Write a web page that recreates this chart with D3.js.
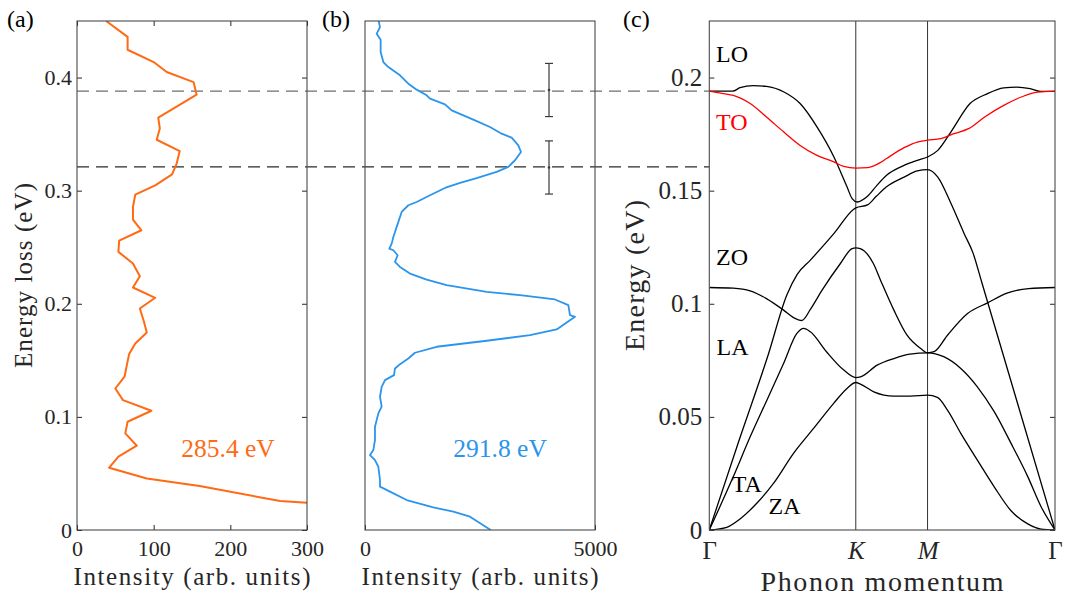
<!DOCTYPE html>
<html>
<head>
<meta charset="utf-8">
<script src="https://cdnjs.cloudflare.com/ajax/libs/d3/7.8.5/d3.min.js"></script>
<style>
    body { margin: 0; background: #fff; }
    text { font-family: Liberation Serif, serif !important; }
</style>
</head>
<body>
<div id="chart"></div>
<script>
// panel (a): spectrum at 285.4 eV (energy loss vs intensity)
let lossA = [0.45, 0.436, 0.4246, 0.4137, 0.4049, 0.396, 0.3849, 0.3645, 0.355, 0.345, 0.335, 0.324,
    0.3144, 0.3047, 0.2965, 0.2856, 0.2744, 0.265, 0.2559, 0.2459, 0.2356, 0.2244, 0.2144, 0.2053,
    0.1958, 0.185, 0.1746, 0.1649, 0.1555, 0.1458, 0.1355, 0.1251, 0.1148, 0.1054, 0.0957, 0.0854,
    0.0745, 0.0648, 0.0551, 0.0456, 0.0389, 0.0256, 0.0241];
let intensityA = [38, 66, 66, 100, 117, 152, 156, 106, 108, 104, 134, 130,
    124, 102, 76, 73, 73, 84, 55, 54, 73, 82, 73, 102,
    82, 87, 91, 76, 68, 65, 62, 50, 60, 97, 66, 63,
    78, 54, 42, 91, 160, 265, 300];

// panel (b): spectrum at 291.8 eV
let lossB = [0.45, 0.4446, 0.4388, 0.4335, 0.4226, 0.4137, 0.4093, 0.402, 0.3946, 0.3893, 0.3843, 0.3813,
    0.3763, 0.371, 0.3666, 0.3622, 0.3563, 0.3504, 0.3469, 0.3401, 0.3342, 0.3269, 0.321, 0.3166,
    0.3107, 0.3068, 0.3024, 0.2959, 0.29, 0.2871, 0.2812, 0.2724, 0.2591, 0.2532, 0.2488, 0.2473,
    0.2429, 0.237, 0.2326, 0.2267, 0.2214, 0.2164, 0.2105, 0.2076, 0.2038, 0.1988, 0.1899, 0.1885,
    0.1773, 0.1723, 0.1673, 0.162, 0.1567, 0.1516, 0.1466, 0.1428, 0.1369, 0.1325, 0.1266, 0.1178,
    0.109, 0.1031, 0.0913, 0.0795, 0.0707, 0.0663, 0.0618, 0.0559, 0.0442, 0.0383, 0.0339, 0.0265,
    0.02, 0.0162, 0.0118, 0];
let intensityB = [297, 326, 254, 340, 340, 399, 507, 761, 942, 1123, 1340, 1413,
    1739, 1884, 2138, 2391, 2717, 2971, 3188, 3333, 3391, 3261, 3116, 2862,
    2391, 2065, 1739, 1413, 1123, 942, 797, 725, 616, 580, 529, 616,
    710, 652, 761, 978, 1340, 1775, 2645, 3369, 4130, 4420, 4456, 4565,
    4166, 3587, 2645, 1558, 1087, 942, 761, 652, 630, 435, 362, 326,
    362, 290, 217, 217, 181, 109, 217, 290, 326, 326, 543, 906,
    1485, 1920, 2283, 2732];

// error bars in panel (b)
let errX = [4000, 4000];
let errCenter = [0.389, 0.3205];
let errHalf = [0.0235, 0.0235];

// dashed guide lines (energy loss)
let guideLoss = [0.388, 0.321];
let guideColor = ["#6e6e6e", "#2a2a2a"];

// panel (c): phonon branches, [momentum, energy]; K at 1, M at 1.49, Gamma at 2.36
let branchLO = [[0, 0.194], [0.16, 0.194], [0.21, 0.1955], [0.30, 0.1964], [0.39, 0.1961], [0.51, 0.1936],
    [0.62, 0.1885], [0.735, 0.1782], [0.85, 0.165], [0.94, 0.1517], [0.975, 0.1465], [1.01, 0.145],
    [1.08, 0.1475], [1.14, 0.152], [1.21, 0.1568], [1.33, 0.1612], [1.42, 0.1634], [1.49, 0.1649],
    [1.56, 0.1678], [1.65, 0.176], [1.78, 0.1885], [1.90, 0.1929], [2.01, 0.1954], [2.10, 0.1958],
    [2.19, 0.1951], [2.26, 0.1939], [2.36, 0.1939]];
let branchTO = [[0, 0.194], [0.096, 0.1929], [0.164, 0.1921], [0.279, 0.1885], [0.39, 0.1826], [0.507, 0.176],
    [0.62, 0.170], [0.735, 0.1656], [0.85, 0.1627], [0.918, 0.1607], [1.0, 0.160], [1.08, 0.1602],
    [1.17, 0.1625], [1.21, 0.1642], [1.33, 0.169], [1.42, 0.1715], [1.49, 0.1723], [1.58, 0.173],
    [1.67, 0.1752], [1.77, 0.1774], [1.88, 0.1826], [2.01, 0.1877], [2.13, 0.1914], [2.24, 0.1936],
    [2.36, 0.194]];
let branchLA = [[0, 0], [0.2, 0.039], [0.4, 0.077], [0.53, 0.104], [0.6, 0.113], [0.69, 0.1193],
    [0.85, 0.131], [0.986, 0.1418], [1.0, 0.1424], [1.08, 0.1437], [1.14, 0.1475], [1.21, 0.1517],
    [1.33, 0.156], [1.42, 0.1587], [1.49, 0.1593], [1.56, 0.156], [1.65, 0.1443], [1.74, 0.131],
    [1.80, 0.1225], [1.86, 0.1095], [2.36, 0]];
let branchZO = [[0, 0.1072], [0.164, 0.1069], [0.279, 0.1057], [0.39, 0.1023], [0.507, 0.0972], [0.575, 0.0939],
    [0.632, 0.0926], [0.69, 0.0975], [0.77, 0.106], [0.895, 0.1178], [0.975, 0.1244], [1.0, 0.1247],
    [1.03, 0.1244], [1.12, 0.1178], [1.169, 0.1104], [1.26, 0.0972], [1.35, 0.0861], [1.443, 0.0802],
    [1.49, 0.0783], [1.535, 0.0788], [1.626, 0.0861], [1.763, 0.0957], [1.90, 0.1004], [2.037, 0.1048],
    [2.18, 0.1067], [2.36, 0.1072]];
let branchTA = [[0, 0], [0.164, 0.0236], [0.279, 0.0412], [0.393, 0.0574], [0.507, 0.0736], [0.598, 0.0869],
    [0.644, 0.0891], [0.69, 0.0876], [0.80, 0.0788], [0.918, 0.0707], [1.0, 0.0674], [1.032, 0.0677],
    [1.146, 0.0729], [1.26, 0.0758], [1.37, 0.0777], [1.49, 0.0783], [1.60, 0.0766], [1.717, 0.0714],
    [1.83, 0.0633], [1.945, 0.0523], [2.06, 0.0383], [2.174, 0.0236], [2.265, 0.0103], [2.36, 0]];
let branchZA = [[0, 0], [0.119, 0.0012], [0.21, 0.0049], [0.324, 0.0118], [0.438, 0.0206], [0.575, 0.0339],
    [0.712, 0.0449], [0.849, 0.056], [0.94, 0.0626], [1.0, 0.0652], [1.032, 0.0645], [1.123, 0.0611],
    [1.26, 0.0592], [1.374, 0.0592], [1.49, 0.0596], [1.557, 0.0586], [1.626, 0.053], [1.717, 0.0427],
    [1.83, 0.0309], [1.945, 0.0191], [2.06, 0.0085], [2.174, 0.0027], [2.265, 0.0004], [2.36, 0]];

// branch labels [name, momentum, energy]
let branchLabels = [["LO", 0.046, 0.2068], ["TO", 0.046, 0.177], ["ZO", 0.046, 0.117],
    ["LA", 0.05, 0.0773], ["TA", 0.153, 0.0169], ["ZA", 0.404, 0.0071]];

// ticks
let aXTicks = [0, 100, 200, 300];
let aYTicks = [0, 0.1, 0.2, 0.3, 0.4];
let bXTicks = [0, 5000];
let cXTicks = [0, 1, 1.49, 2.36];
let cXLabels = ["Γ", "K", "M", "Γ"];
let cYTicks = [0, 0.05, 0.1, 0.15, 0.2];

const W = 1065, H = 601;
let plotTop = 21, plotBottom = 530;
let axisColor = "#262626";
let fontFamily = "Liberation Serif";
let orange = "#ff6a14", blue = "#2b95ec";

let svg = d3.select("#chart").append("svg")
    .attr("width", W)
    .attr("height", H)
    .attr("font-family", fontFamily);

let yA = d3.scaleLinear().domain([0, 0.45]).range([plotBottom, plotTop]);
let xA = d3.scaleLinear().domain([0, 300]).range([77, 307]);
let xB = d3.scaleLinear().domain([0, 5000]).range([365, 595]);
let xC = d3.scaleLinear().domain([0, 2.36]).range([709.3, 1055]);
let yC = d3.scaleLinear().domain([0, 0.225]).range([plotBottom, plotTop]);

// clip paths for each panel
function addClip(id, x) {
    svg.append("clipPath").attr("id", id)
        .append("rect")
        .attr("x", x.range()[0]).attr("y", plotTop)
        .attr("width", x.range()[1] - x.range()[0])
        .attr("height", plotBottom - plotTop);
}
addClip("clipA", xA);
addClip("clipB", xB);
addClip("clipC", xC);

// style an axis group
function styleAxis(g, size) {
    g.attr("font-family", fontFamily)
        .attr("font-size", size)
        .attr("color", axisColor);
    g.select(".domain").remove();
    g.selectAll(".tick line").attr("stroke-width", 1);
}

function fmt(d) {
    return d === 0 ? "0" : String(+d.toFixed(2));
}

// dashed guide lines across panels (a), (b) to (c)
svg.selectAll(".guide")
    .data(guideLoss)
    .enter().append("line")
    .attr("class", "guide")
    .attr("x1", xA.range()[0])
    .attr("x2", xC.range()[0])
    .attr("y1", d => yA(d))
    .attr("y2", d => yA(d))
    .attr("stroke", (d, i) => guideColor[i])
    .attr("stroke-width", 1.2)
    .attr("stroke-dasharray", "12,7");

// ---- panel (a)
svg.append("g")
    .attr("transform", "translate(0," + plotBottom + ")")
    .call(d3.axisBottom(xA).tickValues(aXTicks).tickSize(-5).tickPadding(10).tickFormat(d3.format("d")))
    .call(g => styleAxis(g, 22));
svg.append("g")
    .attr("transform", "translate(0," + plotTop + ")")
    .call(d3.axisTop(xA).tickValues(aXTicks).tickSize(-5).tickFormat(""))
    .call(g => styleAxis(g, 22));
svg.append("g")
    .attr("transform", "translate(" + xA.range()[0] + ",0)")
    .call(d3.axisLeft(yA).tickValues(aYTicks).tickSize(-5).tickPadding(5).tickFormat(fmt))
    .call(g => styleAxis(g, 22));
svg.append("g")
    .attr("transform", "translate(" + xA.range()[1] + ",0)")
    .call(d3.axisRight(yA).tickValues(aYTicks).tickSize(-5).tickFormat(""))
    .call(g => styleAxis(g, 22));

let lineA = d3.line()
    .x(function (d, i) { return xA(intensityA[i]); })
    .y(function (d) { return yA(d); });
svg.append("path")
    .datum(lossA)
    .attr("clip-path", "url(#clipA)")
    .attr("d", lineA)
    .attr("fill", "none")
    .attr("stroke", orange)
    .attr("stroke-width", 2)
    .attr("stroke-linejoin", "round");

// ---- panel (b)
svg.append("g")
    .attr("transform", "translate(0," + plotBottom + ")")
    .call(d3.axisBottom(xB).tickValues(bXTicks).tickSize(-5).tickPadding(10).tickFormat(d3.format("d")))
    .call(g => styleAxis(g, 22));

let lineB = d3.line()
    .x(function (d, i) { return xB(intensityB[i]); })
    .y(function (d) { return yA(d); });
svg.append("path")
    .datum(lossB)
    .attr("clip-path", "url(#clipB)")
    .attr("d", lineB)
    .attr("fill", "none")
    .attr("stroke", blue)
    .attr("stroke-width", 1.8)
    .attr("stroke-linejoin", "round");

// error bars
let eb = svg.append("g").attr("stroke", "#3a3a3a").attr("stroke-width", 1.2);
errCenter.forEach(function (c, i) {
    let x = xB(errX[i]);
    eb.append("line").attr("x1", x).attr("x2", x)
        .attr("y1", yA(c + errHalf[i])).attr("y2", yA(c - errHalf[i]));
    eb.append("line").attr("x1", x - 4).attr("x2", x + 4)
        .attr("y1", yA(c + errHalf[i])).attr("y2", yA(c + errHalf[i]));
    eb.append("line").attr("x1", x - 4).attr("x2", x + 4)
        .attr("y1", yA(c - errHalf[i])).attr("y2", yA(c - errHalf[i]));
    eb.append("circle").attr("cx", x).attr("cy", yA(c)).attr("r", 1.3)
        .attr("fill", "#3a3a3a").attr("stroke", "none");
});

// ---- panel (c)
svg.append("g")
    .attr("transform", "translate(" + xC.range()[0] + ",0)")
    .call(d3.axisLeft(yC).tickValues(cYTicks).tickSize(-5).tickPadding(7).tickFormat(fmt))
    .call(g => styleAxis(g, 25));
svg.append("g")
    .attr("transform", "translate(" + xC.range()[1] + ",0)")
    .call(d3.axisRight(yC).tickValues(cYTicks).tickSize(-5).tickFormat(""))
    .call(g => styleAxis(g, 25));
svg.append("g")
    .attr("transform", "translate(0," + plotBottom + ")")
    .call(d3.axisBottom(xC).tickValues(cXTicks).tickSize(0).tickPadding(11)
        .tickFormat(function (d, i) { return cXLabels[i]; }))
    .call(g => styleAxis(g, 25))
    .call(g => g.selectAll(".tick text")
        .attr("font-style", function (d, i) { return (i === 1 || i === 2) ? "italic" : null; }));

// vertical lines at K and M
svg.selectAll(".sym")
    .data(cXTicks.slice(1, 3))
    .enter().append("line")
    .attr("class", "sym")
    .attr("x1", d => xC(d)).attr("x2", d => xC(d))
    .attr("y1", plotTop).attr("y2", plotBottom)
    .attr("stroke", "#333")
    .attr("stroke-width", 1);

let lineC = d3.line()
    .x(function (d) { return xC(d[0]); })
    .y(function (d) { return yC(d[1]); })
    .curve(d3.curveMonotoneX);
let blackBranches = [branchLO, branchLA, branchZO, branchTA, branchZA];
svg.append("g")
    .attr("clip-path", "url(#clipC)")
    .selectAll("path")
    .data(blackBranches)
    .enter().append("path")
    .attr("d", lineC)
    .attr("fill", "none")
    .attr("stroke", "#000")
    .attr("stroke-width", 1.3);
svg.append("path")
    .datum(branchTO)
    .attr("clip-path", "url(#clipC)")
    .attr("d", lineC)
    .attr("fill", "none")
    .attr("stroke", "#ff0000")
    .attr("stroke-width", 1.3);

svg.selectAll(".blabel")
    .data(branchLabels)
    .enter().append("text")
    .attr("class", "blabel")
    .attr("x", d => xC(d[1]))
    .attr("y", d => yC(d[2]))
    .attr("font-size", 24)
    .attr("fill", d => d[0] === "TO" ? "#ff0000" : "#000")
    .text(d => d[0]);

// frames
[xA, xB, xC].forEach(function (x) {
    svg.append("rect")
        .attr("x", x.range()[0]).attr("y", plotTop)
        .attr("width", x.range()[1] - x.range()[0])
        .attr("height", plotBottom - plotTop)
        .attr("fill", "none")
        .attr("stroke", "#4a4a4a")
        .attr("stroke-width", 1.1);
});

// spectrum energy labels
svg.append("text")
    .attr("x", xA(136)).attr("y", yA(0.0642))
    .attr("font-size", 25.5).attr("fill", orange)
    .text("285.4 eV");
svg.append("text")
    .attr("x", xB(1920)).attr("y", yA(0.0642))
    .attr("font-size", 25.5).attr("fill", blue)
    .text("291.8 eV");

// axis titles
function title(txt, x, y, size, len, rotate) {
    let t = svg.append("text")
        .attr("text-anchor", "middle")
        .attr("font-size", size)
        .attr("fill", axisColor)
        .attr("textLength", len)
        .attr("lengthAdjust", "spacing")
        .text(txt);
    if (rotate) {
        t.attr("transform", "translate(" + x + "," + y + ") rotate(-90)");
    } else {
        t.attr("x", x).attr("y", y);
    }
}
title("Intensity (arb. units)", 192, 585, 25, 237, false);
title("Intensity (arb. units)", 480, 585, 25, 237, false);
title("Phonon momentum", 882, 591, 28, 243, false);
title("Energy loss (eV)", 32, 275.5, 25, 185, true);
title("Energy (eV)", 644, 275.5, 28, 151, true);

// panel letters
[["(a)", 7], ["(b)", 322], ["(c)", 623]].forEach(function (p) {
    svg.append("text")
        .attr("x", p[1]).attr("y", 27)
        .attr("font-size", 24)
        .attr("fill", "#000")
        .text(p[0]);
});
</script>
</body>
</html>
